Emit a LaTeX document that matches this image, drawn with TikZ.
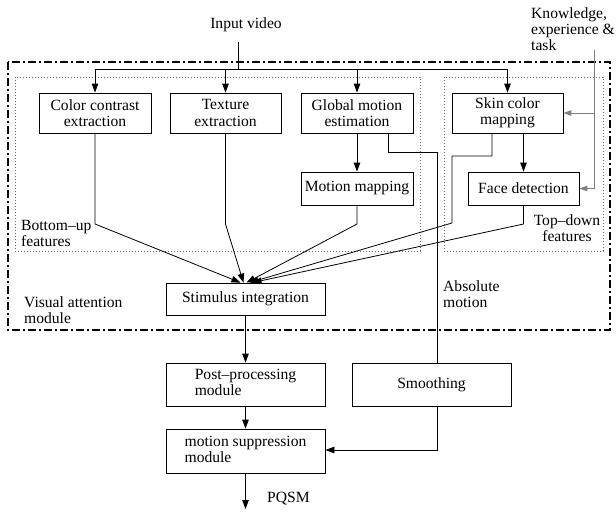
\documentclass[tikz,border=0pt]{standalone}
\usepackage{fontspec}
\setmainfont{Liberation Serif}
\usetikzlibrary{arrows.meta,calc}
\begin{document}
\begin{tikzpicture}[x=1pt,y=-1pt,
  every node/.style={font=\fontsize{15.6}{16.2}\selectfont},
  box/.style={draw,line width=0.8pt,inner sep=0pt,align=center},
  lbl/.style={inner sep=0pt,align=left},
  line/.style={line width=0.8pt},
  arr/.style={line width=0.8pt,-{Triangle[length=9pt,width=6.5pt]}},
  garr/.style={line width=1pt,gray,-{Triangle[length=8pt,width=5.5pt]}},
  outer/.style={line width=1.3pt,dash pattern=on 8pt off 3pt on 2pt off 3pt},
  inner/.style={line width=0.6pt,gray!80!black,dash pattern=on 1pt off 2pt}]
\useasboundingbox (0,0) rectangle (616,512);
% frames
\draw[outer] (8,62) rectangle (610,330);
\draw[inner] (15,77) rectangle (420,251);
\draw[inner] (444,77) rectangle (603,251);
% boxes
\node[box,minimum width=112pt,minimum height=40pt] (cc) at (95,113) {Color contrast\\extraction};
\node[box,minimum width=111pt,minimum height=40pt] (tex) at (225.5,113) {Texture\\extraction};
\node[box,minimum width=112pt,minimum height=40pt] (gm) at (357,113) {Global motion\\estimation};
\node[box,minimum width=112pt,minimum height=33pt] (mm) at (357,188.5) {Motion mapping};
\node[box,minimum width=111pt,minimum height=40pt] (skin) at (507.5,113) {Skin color\\mapping};
\node[box,minimum width=111pt,minimum height=33pt] (face) at (523.5,188.5) {Face detection};
\node[box,minimum width=159pt,minimum height=32pt] (si) at (245.5,299) {Stimulus integration};
\node[box,minimum width=159pt,minimum height=43pt] (pp) at (245.5,384.5) {\begin{tabular}{@{}l@{}}Post–processing\\module\end{tabular}};
\node[box,minimum width=159pt,minimum height=43pt] (sm) at (431.5,384.5) {Smoothing};
\node[box,minimum width=159pt,minimum height=44pt] (ms) at (245.5,451) {\begin{tabular}{@{}l@{}}motion suppression\\module\end{tabular}};
% labels
\node[lbl] (iv) at (246,25) {Input video};
\node[lbl,anchor=west] (kn) at (531,29) {Knowledge,\\experience \&\\task};
\node[lbl,anchor=west] (bu) at (21,233.5) {Bottom–up\\features};
\node[lbl,align=center] (td) at (567,228.5) {Top–down\\features};
\node[lbl,anchor=west] (va) at (24,310) {Visual attention\\module};
\node[lbl,anchor=west] (am) at (443,294) {Absolute\\motion};
\node[lbl,anchor=west] (pq) at (267,499) {PQSM};
% coordinates
\coordinate (ivs) at (238,42);
\coordinate (ivj) at (238,69);
\coordinate (kns) at (594,50);
\coordinate (out) at (245.5,509);
% input distribution
\draw[line] (ivs) -- (ivj);
\draw[line] (95,69) -- (507.5,69);
\draw[arr] (95,69) -- (cc.north);
\draw[arr] (225.5,69) -- (tex.north);
\draw[arr] (357,69) -- (gm.north);
\draw[arr] (507.5,69) -- (skin.north);
% knowledge
\draw[line width=1pt,gray] (kns) -- (594,188.5);
\draw[garr] (594,113) -- (skin.east);
\draw[garr] (594,188.5) -- (face.east);
% inner arrows
\draw[arr] (gm.south) -- (mm.north);
\draw[arr] (skin.south -| face.north) -- (face.north);
% to stimulus integration
\draw[arr] (cc.south) -- (95,224) -- ($(si.north)+(-5,0)$);
\draw[arr] (tex.south) -- (225.5,224) -- ($(si.north)+(-2,0)$);
\draw[arr] (mm.south) -- (357,224) -- ($(si.north)+(1,0)$);
\draw[arr] (492,133) -- (492,156) -- (452,156) -- (452,223) -- ($(si.north)+(4,0)$);
\draw[arr] (face.south) -- (523.5,224) -- ($(si.north)+(7,0)$);
% absolute motion
\draw[line] (388,133) -- (388,152) -- (437,152) -- (437,363);
\draw[arr] (437,406) -- (437,450) -- (ms.east |- 0,450);
% main chain
\draw[arr] (si.south) -- (pp.north);
\draw[arr] (pp.south) -- (ms.north);
\draw[arr] (ms.south) -- (out);
\end{tikzpicture}
\end{document}
